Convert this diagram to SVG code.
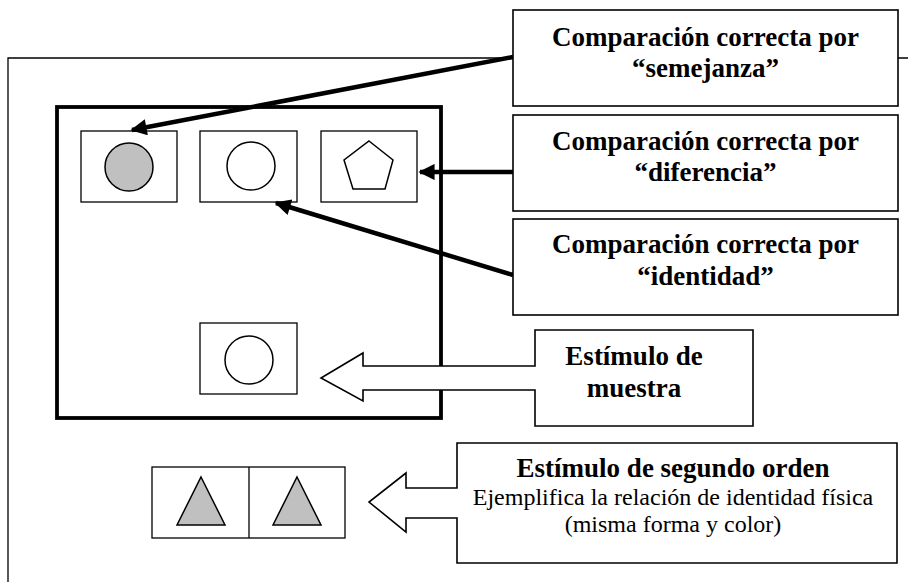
<svg xmlns="http://www.w3.org/2000/svg" width="908" height="582" viewBox="0 0 908 582">
<style>
.thin{fill:none;stroke:#000;stroke-width:1.3}
.box{fill:#fff;stroke:#000;stroke-width:1.6}
.fig{stroke:#000;stroke-width:1.5}
.b{font-family:"Liberation Serif","Times New Roman",serif;font-weight:bold;font-size:27px;text-anchor:middle;fill:#000}
.r{font-family:"Liberation Serif","Times New Roman",serif;font-size:24px;text-anchor:middle;fill:#000}
.conn{fill:none;stroke:#000;stroke-width:4.5}
</style>
<defs>
<marker id="ah" viewBox="0 0 10 10" refX="9" refY="5" markerWidth="4" markerHeight="3.6" orient="auto" markerUnits="strokeWidth">
<path d="M0,0 L10,5 L0,10 Z" fill="#000"/>
</marker>
</defs>
<rect width="908" height="582" fill="#fff"/>
<g id="frame">
<path d="M908,58 H8 V582" fill="none" stroke="#000" stroke-width="1.3"/>
</g>
<g id="array">
<rect x="57" y="107" width="384" height="311" fill="none" stroke="#000" stroke-width="3.8"/>
</g>
<g id="comp1">
<rect class="thin" x="81" y="131" width="96" height="71"/>
<circle class="fig" cx="129" cy="167" r="24" fill="#c0c0c0"/>
</g>
<g id="comp2">
<rect class="thin" x="200" y="131" width="97" height="71"/>
<circle class="fig" cx="251" cy="166" r="24" fill="#fff"/>
</g>
<g id="comp3">
<rect class="thin" x="321" y="131" width="96" height="71"/>
<polygon class="fig" points="369,141 393,160 385,189 353,189 344,160" fill="#fff"/>
</g>
<g id="sample">
<rect class="thin" x="200" y="323" width="97" height="71"/>
<circle class="fig" cx="249" cy="360" r="24" fill="#fff"/>
</g>
<g id="second-order">
<rect class="thin" x="152" y="467" width="193" height="71"/>
<line x1="249" y1="467" x2="249" y2="538" stroke="#000" stroke-width="1.3"/>
<polygon class="fig" points="201,477 225,525 177,525" fill="#c0c0c0"/>
<polygon class="fig" points="297,477 321,525 273,525" fill="#c0c0c0"/>
</g>
<g id="connectors">
<line class="conn" x1="513" y1="57" x2="132" y2="130" marker-end="url(#ah)"/>
<line class="conn" x1="513" y1="172" x2="420" y2="172" marker-end="url(#ah)"/>
<line class="conn" x1="513" y1="275" x2="276" y2="203" marker-end="url(#ah)"/>
</g>
<g id="label-semejanza">
<rect class="box" x="513" y="10" width="385" height="96"/>
<text class="b" x="705.5" y="46">Comparación correcta por</text>
<text class="b" x="705.5" y="77">“semejanza”</text>
</g>
<g id="label-diferencia">
<rect class="box" x="513" y="115" width="385" height="96"/>
<text class="b" x="705.5" y="150">Comparación correcta por</text>
<text class="b" x="705.5" y="181">“diferencia”</text>
</g>
<g id="label-identidad">
<rect class="box" x="513" y="219" width="385" height="96"/>
<text class="b" x="705.5" y="253">Comparación correcta por</text>
<text class="b" x="705.5" y="285">“identidad”</text>
</g>
<g id="label-muestra">
<path class="box" d="M535,330 H753 V426 H535 V390 H363 V401 L321,378 L363,353 V366 H535 Z"/>
<text class="b" x="634" y="365">Estímulo de</text>
<text class="b" x="634" y="397">muestra</text>
</g>
<g id="label-segundo-orden">
<path class="box" d="M457,443 H897 V563 H457 V518 H406 V532 L369,502 L406,473 V488 H457 Z"/>
<text class="b" x="673" y="477">Estímulo de segundo orden</text>
<text class="r" x="673" y="505">Ejemplifica la relación de identidad física</text>
<text class="r" x="673" y="532">(misma forma y color)</text>
</g>
</svg>
